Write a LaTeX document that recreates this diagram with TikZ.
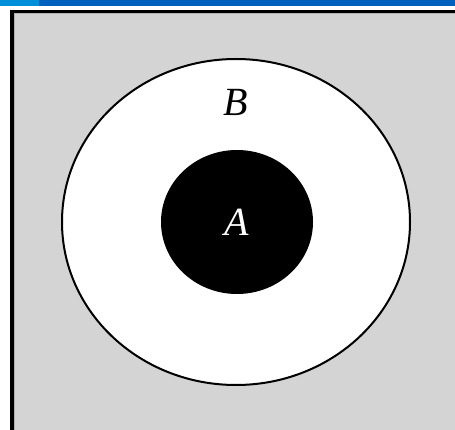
\documentclass[tikz,border=0pt]{standalone}
\usepackage{fontspec}
\setmainfont{Liberation Serif}
\definecolor{barlight}{HTML}{0090DA}
\definecolor{bardark}{HTML}{0060BE}
\definecolor{panel}{HTML}{D4D4D4}
\tikzset{
  lbl/.style={font=\fontsize{40}{44}\selectfont\itshape, inner sep=0pt, anchor=center},
}
\begin{document}
\begin{tikzpicture}[x=1pt,y=-1pt]
\useasboundingbox (0,0) rectangle (455,430);
\fill[white] (0,0) rectangle (455,430);
% top bar
\fill[bardark] (0,0) rectangle (455,6.5);
\fill[barlight] (0,0) rectangle (39,6.5);
% panel
\fill[panel] (12,11.5) rectangle (460,435);
\draw[line width=3.5pt] (12,440) -- (12,11.5) -- (460,11.5);
\draw[gray!60, line width=1pt] (14.5,440) -- (14.5,14) -- (460,14);
% outer set B
\draw[fill=white, line width=2pt] (236,222) ellipse [x radius=174, y radius=163];
% inner set A
\fill[black] (237,222) ellipse [x radius=76, y radius=72];
\node[lbl] (B) at (236,102) {B};
\node[lbl, text=white] (A) at (237,222) {A};
\end{tikzpicture}
\end{document}
